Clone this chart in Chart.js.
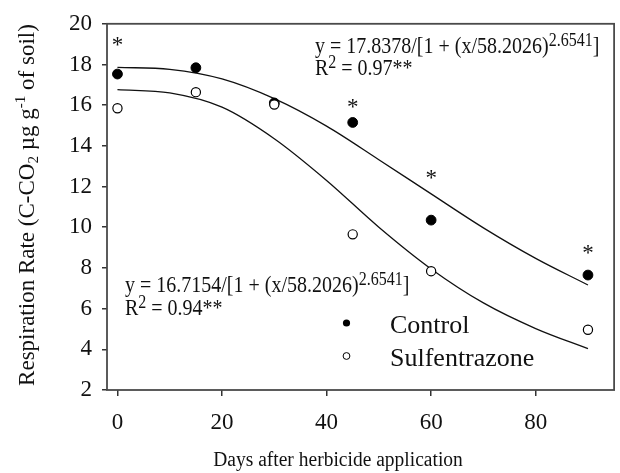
<!DOCTYPE html>
<html><head><meta charset="utf-8">
<script src="https://cdn.jsdelivr.net/npm/chart.js@4.4.0/dist/chart.umd.min.js"></script>
<style>html,body{margin:0;padding:0;background:#fff}#wrap{width:620px;height:473px;position:relative}</style>
</head><body><div id="wrap"><canvas id="c" width="620" height="473"></canvas></div>
<script>
// ---- data ----
const days = [0, 15, 30, 45, 60, 90];
const controlRate = [17.53, 17.84, 16.11, 15.15, 10.35, 7.65];
const sulfentrazoneRate = [15.85, 16.64, 16.03, 9.65, 7.84, 4.96];

// fitted curves as drawn in the picture (read at these days)
const fitDays = [0, 10, 20, 30, 40, 50, 60, 70, 80, 90];
const controlFit = [17.86, 17.76, 17.29, 16.32, 14.97, 13.32, 11.64, 9.97, 8.47, 7.16];
const sulfentrazoneFit = [16.76, 16.60, 15.90, 14.35, 12.30, 10.00, 7.95, 6.28, 5.02, 4.03];

// significance asterisks (day, level)
const sigDays = [0, 45, 60, 90];
const sigLevels = [18.93, 15.86, 12.35, 8.68];

const xTicks = [0, 20, 40, 60, 80];
const yTicks = [2, 4, 6, 8, 10, 12, 14, 16, 18, 20];

const seriesNames = ['Control', 'Sulfentrazone'];
const xTitle = 'Days after herbicide application';
const eqControl = [['y = 17.8378/[1 + (x/58.2026)'], ['2.6541', 'sup'], [']']];
const r2Control = [['R'], ['2', 'sup'], [' = 0.97**']];
const eqSulf = [['y = 16.7154/[1 + (x/58.2026)'], ['2.6541', 'sup'], [']']];
const r2Sulf = [['R'], ['2', 'sup'], [' = 0.94**']];
const yTitle = [['Respiration Rate (C-CO'], ['2', 'sub'], [' \u00b5g g'], ['-1', 'sup2'], [' of soil)']];

// ---- drawing ----
const FONT = "'Liberation Serif', 'Times New Roman', serif";
const INK = '#111';

function drawRich(ctx, segs, size, align, stretch) {
  ctx.save();
  ctx.scale(1, stretch || 1);
  ctx.textBaseline = 'alphabetic';
  ctx.textAlign = 'left';
  ctx.fillStyle = INK;
  let total = 0;
  const parts = segs.map(s => {
    const kind = s[1];
    let fs = size, dy = 0;
    if (kind === 'sup') { fs = size * 0.8; dy = -size * 0.28; }
    if (kind === 'sup2') { fs = size * 0.66; dy = -size * 0.40; }
    if (kind === 'sub') { fs = size * 0.66; dy = size * 0.18; }
    ctx.font = fs + 'px ' + FONT;
    const w = ctx.measureText(s[0]).width;
    total += w;
    return { t: s[0], fs, dy, w };
  });
  let cx = align === 'center' ? -total / 2 : 0;
  for (const p of parts) {
    ctx.font = p.fs + 'px ' + FONT;
    ctx.fillText(p.t, cx, p.dy);
    cx += p.w;
  }
  ctx.restore();
}

const decorPlugin = {
  id: 'decor',
  afterDatasetsDraw(chart) {
    const ctx = chart.ctx;
    const a = chart.chartArea;
    const xs = chart.scales.x, ys = chart.scales.y;
    // frame
    ctx.save();
    ctx.strokeStyle = '#4a4a4a';
    ctx.lineWidth = 1.8;
    ctx.strokeRect(a.left, a.top, a.right - a.left, a.bottom - a.top);
    ctx.restore();

    // asterisks
    ctx.save();
    ctx.fillStyle = INK;
    ctx.font = '23px ' + FONT;
    ctx.textAlign = 'center';
    ctx.textBaseline = 'alphabetic';
    sigDays.forEach((d, i) => {
      ctx.fillText('*', xs.getPixelForValue(d), ys.getPixelForValue(sigLevels[i]) + 6);
    });
    ctx.restore();

    // equations
    const put = (segs, x, y, size, align, st) => {
      ctx.save(); ctx.translate(x, y); drawRich(ctx, segs, size, align, st); ctx.restore();
    };
    put(eqControl, 315, 52.5, 20, 'left', 1.12);
    put(r2Control, 315, 74.5, 20, 'left', 1.12);
    put(eqSulf, 125, 291.5, 20, 'left', 1.12);
    put(r2Sulf, 125, 314.5, 20, 'left', 1.12);

    // legend
    ctx.save();
    ctx.lineWidth = 1;
    ctx.strokeStyle = '#000';
    ctx.fillStyle = '#000';
    ctx.beginPath(); ctx.arc(346.5, 323, 3.6, 0, Math.PI * 2); ctx.fill();
    ctx.fillStyle = '#fff';
    ctx.beginPath(); ctx.arc(346.5, 356, 3.4, 0, Math.PI * 2); ctx.fill(); ctx.stroke();
    ctx.restore();
    put([[seriesNames[0]]], 390, 333, 26, 'left', 1.0);
    put([[seriesNames[1]]], 390, 365.5, 26, 'left', 1.0);

    // axis titles
    put([[xTitle]], 338, 466, 19.5, 'center', 1.12);
    ctx.save();
    ctx.translate(34, 205);
    ctx.rotate(-Math.PI / 2);
    drawRich(ctx, yTitle, 23, 'center', 1.0);
    ctx.restore();
  }
};

const pts = (xsArr, ysArr) => xsArr.map((x, i) => ({ x, y: ysArr[i] }));

new Chart(document.getElementById('c'), {
  type: 'scatter',
  data: {
    datasets: [
      { label: seriesNames[1], data: pts(days, sulfentrazoneRate), showLine: false,
        pointRadius: 4.6, pointBackgroundColor: '#fff', pointBorderColor: '#000', pointBorderWidth: 1.2, order: 1 },
      { label: seriesNames[0], data: pts(days, controlRate), showLine: false,
        pointRadius: 4.9, pointBackgroundColor: '#000', pointBorderColor: '#000', pointBorderWidth: 1, order: 2 },
      { label: 'fitC', data: pts(fitDays, controlFit), showLine: true, pointRadius: 0,
        borderColor: '#111', borderWidth: 1.3, cubicInterpolationMode: 'monotone', order: 3 },
      { label: 'fitS', data: pts(fitDays, sulfentrazoneFit), showLine: true, pointRadius: 0,
        borderColor: '#111', borderWidth: 1.3, cubicInterpolationMode: 'monotone', order: 4 }
    ]
  },
  options: {
    responsive: false,
    animation: false,
    devicePixelRatio: 1,
    layout: { padding: { left: 0, top: 20, right: 2, bottom: 0 } },
    plugins: { legend: { display: false }, tooltip: { enabled: false } },
    scales: {
      x: {
        type: 'linear', min: -2, max: 95,
        afterBuildTicks: s => { s.ticks = xTicks.map(v => ({ value: v })); },
        afterFit: s => { s.height = 83; },
        border: { display: false },
        grid: { display: true, drawOnChartArea: false, drawTicks: true, tickLength: 6, color: '#333', lineWidth: 1.5 },
        ticks: { color: INK, font: { family: FONT, size: 23 }, padding: 13, maxRotation: 0 }
      },
      y: {
        type: 'linear', min: 2, max: 20,
        afterBuildTicks: s => { s.ticks = yTicks.map(v => ({ value: v })); },
        afterFit: s => { s.width = 107; },
        border: { display: false },
        grid: { display: true, drawOnChartArea: false, drawTicks: true, tickLength: 5, color: '#333', lineWidth: 1.5 },
        ticks: { color: INK, font: { family: FONT, size: 23 }, padding: 10 }
      }
    }
  },
  plugins: [decorPlugin]
});
</script>
</body></html>
